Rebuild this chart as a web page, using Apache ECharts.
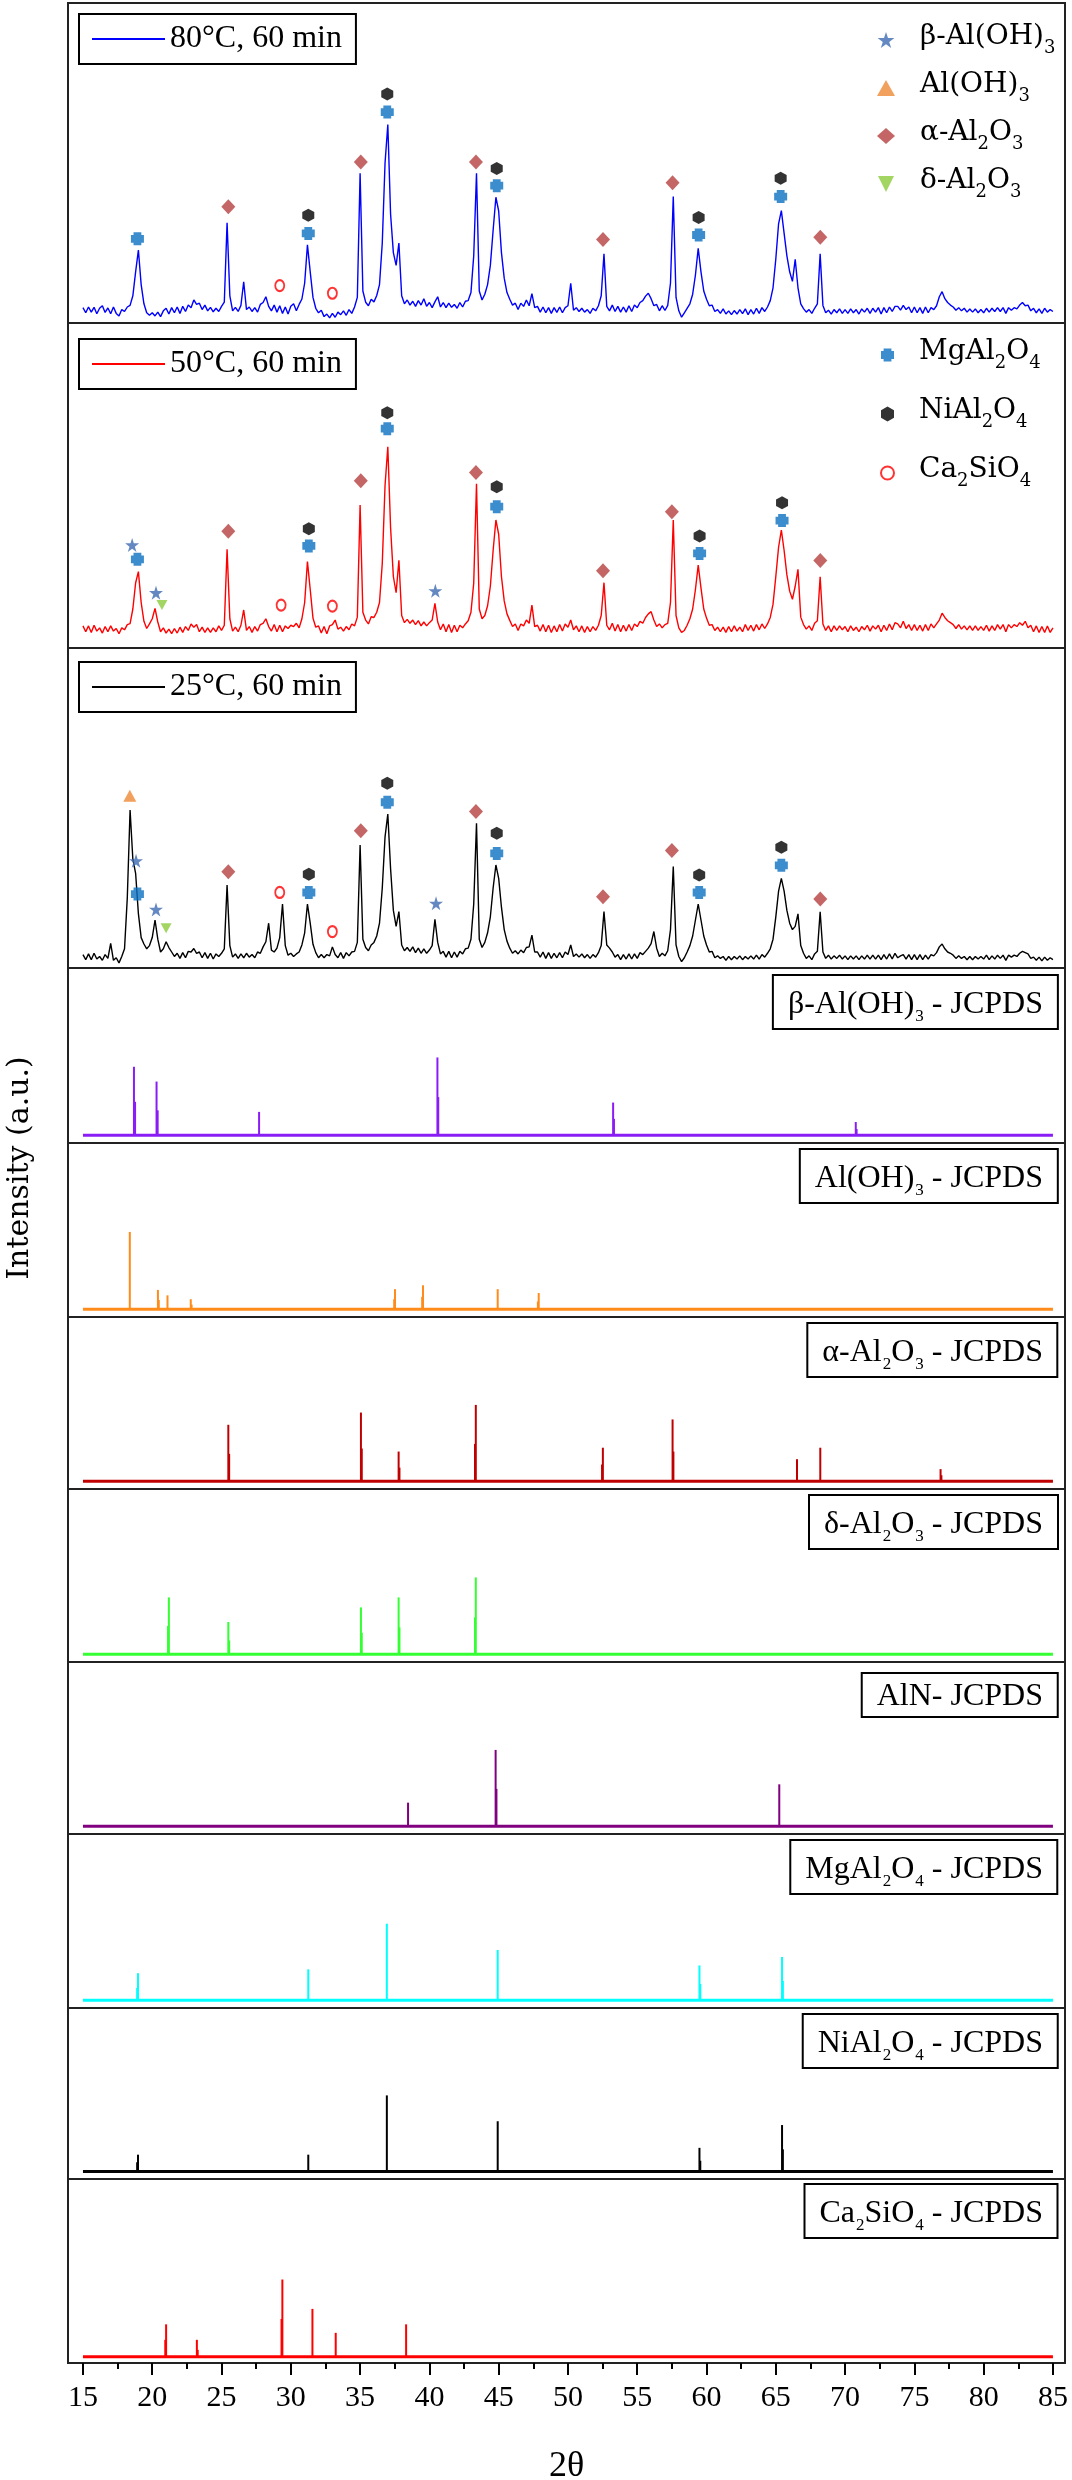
<!DOCTYPE html>
<html>
<head>
<meta charset="utf-8">
<script src="https://cdn.jsdelivr.net/npm/echarts/dist/echarts.min.js"></script>
<style>html,body{margin:0;padding:0;background:#fff}#chart{width:1072px;height:2480px}</style>
</head>
<body>
<div id="chart"></div>
<script>
// ---------------- DATA ----------------
// 2θ sampling of the measured scans (15° .. 85°, step 0.2°)
const scanStart = 15, scanStep = 0.2, scanEnd = 85;

// Measured XRD intensities (a.u.), one value per 0.2° step, rows of 5°
const xrd80 = [
 4.8,3.2,5.0,3.4,4.9,2.9,4.6,5.4,3.3,4.7,2.9,5.0,3.0,2.2,4.2,3.6,5.0,5.5,8.5,16,22.8,12,6,3.2,2.4,
 3.2,2.2,3.4,2.0,3.8,4.6,2.8,4.8,3.2,5.0,3.0,5.2,3.6,5.6,4.8,7.2,5.8,6.2,4.2,5.6,3.8,4.9,3.5,4.6,3.6,
 5.2,6.5,31.3,8.5,3.8,4.9,3.6,5.5,12.9,4.2,5.0,3.6,4.8,3.4,5.8,6.4,8.2,5.2,3.8,5.6,3.4,5.4,3.0,5.0,2.8,
 5.2,6.0,3.8,5.8,7.5,12.5,24.4,16,8,4.6,3.2,4.0,2.0,2.8,1.6,3.0,1.8,3.4,2.6,3.8,2.4,4.2,3.0,5.0,8.0,
 46.8,10,6.5,5.4,7.4,6.6,8.6,12,25,50,62,34,22,18,25,8.5,6.0,7.2,5.6,6.8,5.2,7.0,5.6,7.6,5.2,
 6.4,4.8,6.6,8.2,5.0,6.4,4.8,6.2,4.9,5.8,4.6,6.4,5.0,6.8,7.0,9.5,21,46.8,10,7.2,9,12,18,29,39.3,
 35,22,14,9.5,7.4,5.6,6.2,4.2,6.2,5.2,7.2,5.4,9.2,4.8,5.2,3.4,5.0,3.2,4.8,3.0,4.8,3.3,5.0,3.2,4.8,
 5.4,12.4,4.0,4.8,3.6,4.6,3.4,4.2,3.0,4.6,3.8,5.4,8.5,21.6,5.2,3.8,5.6,3.6,5.2,3.4,5.0,3.4,5.4,3.6,5.6,
 4.8,6.4,7.0,8.4,9.3,7.6,5.4,5.8,3.8,5.4,3.9,5.5,12.5,39.5,8.0,3.8,1.8,3.2,4.6,6.0,9.0,15,23.3,16,10,
 7.4,5.4,5.6,3.6,4.2,3.0,4.4,2.8,3.8,2.6,3.9,2.8,4.2,2.9,4.4,2.6,4.2,2.8,4.6,3.0,4.8,3.6,5.0,7.0,11,
 20,31,35.1,28,21,16,13,19.9,11,6.0,4.5,3.4,4.2,3.0,4.6,6.0,21.6,5.5,3.2,4.0,2.8,4.2,3.2,4.4,3.0,
 4.2,3.0,4.4,3.2,4.2,2.8,4.4,3.4,4.6,3.0,4.6,3.4,4.8,2.8,4.8,3.2,5.0,3.6,5.2,5.2,4.0,5.5,4.2,5.0,3.2,
 5.0,3.2,4.8,3.0,5.0,3.2,4.8,4.2,5.4,8.2,9.8,7.6,6.4,5.6,5.0,4.0,4.8,3.8,4.6,3.4,4.4,3.4,4.4,3.2,4.2,
 3.2,4.6,3.4,4.6,3.6,4.8,3.6,4.8,3.0,4.8,4.0,4.8,4.4,5.6,6.4,5.4,5.6,3.8,4.6,3.2,4.4,3.0,4.6,3.4,4.2,
 3.6
];
const xrd50 = [
 6.8,5.0,6.8,4.8,7.0,5.2,6.2,4.6,6.6,5.0,6.8,5.2,6.0,4.4,6.2,5.6,7.2,7.5,12,20,23.5,14,8.2,6.0,7.4,
 9.0,12.2,8.0,5.0,6.2,4.6,5.8,4.4,6.0,4.6,6.4,4.8,6.6,5.4,7.4,6.4,7.2,5.0,6.4,4.8,6.2,4.8,6.2,5.0,6.8,
 5.4,7.0,30.4,9.0,5.2,6.4,5.0,7.0,11.7,5.4,6.6,4.8,6.6,5.2,7.2,7.6,9.0,6.6,5.2,7.2,5.0,7.0,5.0,6.8,6.0,
 7.0,6.6,7.6,6.2,9.0,14,26.6,18,9.2,6.4,6.8,4.6,6.6,4.4,6.8,7.2,8.6,5.8,6.4,5.2,6.6,5.6,7.4,6.8,9.5,
 44,11,8.6,7.4,9.6,9.4,11,14,26,50,61.9,37,22,17,27,10,7.8,8.8,7.6,8.6,7.2,8.4,6.8,8.0,6.8,
 7.8,8.6,13.7,8.0,5.6,7.4,5.0,7.2,4.8,7.0,5.0,7.0,6.2,7.4,8.4,11,20,50.5,12,9.0,10,13,19,30,39.4,
 35,22,14.5,10.5,8.5,6.6,7.4,5.4,7.4,6.8,8.6,7.6,13.2,6.6,7.0,5.2,7.2,5.0,7.0,4.8,6.8,5.0,7.2,5.2,7.4,
 6.4,8.6,5.6,6.8,5.0,6.8,4.8,6.6,5.0,6.6,5.4,7.0,10,20.1,7.0,5.6,7.6,5.2,7.2,5.0,7.0,5.2,7.2,5.4,7.4,
 6.6,8.2,7.6,9.4,10.5,11.2,8.6,6.6,7.4,6.2,7.2,7.6,14,39.4,10,6.2,4.8,5.4,7.0,9.0,12,18,25.5,18.5,12,
 9.2,7.0,7.2,5.4,6.4,5.0,6.4,4.8,6.6,5.0,6.8,5.2,6.4,5.0,7.2,5.4,7.0,5.2,7.2,5.6,7.4,6.0,7.4,9.4,13.5,
 22,31,36.3,30,22.5,17.5,15,19,24.2,9.5,7.2,5.8,6.8,5.4,7.6,8.4,21.9,7.4,5.4,6.8,5.0,6.8,5.4,6.8,5.6,
 6.6,5.0,6.8,5.4,6.4,5.0,6.6,5.6,7.0,5.2,6.8,5.8,7.0,5.0,7.0,5.4,7.4,5.6,7.8,7.4,6.2,8.2,6.0,7.2,5.4,
 7.2,5.4,7.0,5.2,7.2,5.4,7.4,6.2,7.4,8.6,10.7,9.4,8.4,7.8,7.2,6.0,7.2,5.8,6.8,5.6,6.8,5.4,6.8,5.4,6.6,
 5.4,7.0,5.2,6.8,5.4,7.2,5.8,7.2,5.0,7.2,6.2,7.2,6.6,7.8,7.0,8.2,6.2,7.0,5.0,6.8,4.8,6.6,4.8,6.8,4.8,
 6.2
];
const xrd25 = [
 4.2,2.6,4.4,2.6,4.6,2.8,3.6,2.4,4.2,3.0,7.7,2.4,3.2,1.6,3.6,6.0,22,49.4,34,29.6,17,9.5,7.5,6.0,7.0,
 9.5,15,9.0,5.0,6.0,8.2,6.4,5.0,3.6,4.6,3.0,4.8,3.2,5.2,5.0,6.1,4.6,5.0,3.2,4.8,3.0,4.6,2.8,4.4,3.6,
 4.6,6.0,25.9,7.0,3.4,4.4,3.0,4.4,3.2,4.6,3.4,4.2,3.2,5.0,4.6,6.6,8.2,14,5.6,5.0,6.2,9.5,20,7.0,4.0,
 4.6,3.6,4.4,5.0,7.2,11,20,14,7.4,4.8,3.2,4.2,3.2,4.2,3.8,6.6,4.2,3.2,4.8,3.0,4.8,3.8,5.0,5.2,8.0,
 38.4,9.0,6.4,5.4,7.2,8.0,10,14,25,41,48.1,31,18,13,17.6,7.2,5.4,6.4,5.2,6.6,4.8,6.2,4.6,6.0,4.6,
 5.6,7.0,15.2,8.0,4.4,5.2,3.4,5.2,3.2,5.0,3.4,5.2,4.4,6.0,6.2,9.0,20,45.2,9.0,6.4,8.0,11,16,25,32.2,
 28,19,12,8.4,6.2,4.6,5.4,4.4,5.6,4.8,6.4,6.6,10.3,5.0,5.0,3.4,5.0,3.0,4.8,3.0,4.6,3.2,4.8,3.2,5.0,
 4.2,7.2,3.6,4.4,3.4,4.4,3.2,4.2,3.0,4.2,3.4,4.8,7.0,17.6,7.2,6.2,5.0,3.4,4.2,2.6,4.2,2.8,4.4,2.8,4.4,
 3.0,4.8,4.2,5.2,6.2,7.6,11.4,6.2,3.6,4.6,3.8,5.4,12,31.7,7.2,3.6,2.0,3.2,5.0,7.0,10,15,20,15,10,
 7.2,5.0,5.2,3.2,3.8,3.0,3.6,2.4,3.6,2.6,3.6,2.8,3.8,2.6,3.6,2.8,3.8,2.8,4.0,2.8,4.2,3.4,4.6,6.0,9.0,
 16,24,28,24,18,14,12,13,16.9,7.0,4.6,3.0,3.8,2.6,4.4,5.2,17.6,5.0,3.0,4.0,2.8,3.8,3.0,4.0,2.8,
 3.8,2.6,3.8,2.8,3.8,2.6,3.8,2.8,4.0,2.8,4.0,2.8,4.0,2.6,4.2,2.8,4.4,2.8,4.6,3.2,3.8,4.2,2.8,4.2,2.6,
 4.2,2.6,4.2,2.6,4.0,2.8,4.2,3.8,4.8,6.6,7.5,6.0,5.0,4.6,4.0,3.0,3.8,3.0,3.6,2.6,3.6,2.6,3.6,2.8,3.6,
 2.8,4.0,2.6,3.8,2.8,4.0,3.0,4.0,2.4,4.0,3.4,4.0,3.6,4.6,5.2,4.8,4.4,3.0,3.4,2.4,3.4,2.2,3.4,2.4,3.2,
 2.6
];
const sampleNames = ['80°C, 60 min', '50°C, 60 min', '25°C, 60 min'];

// Phase markers: [panel (0 = 80°C, 1 = 50°C, 2 = 25°C), 2θ, intensity]
const marksBetaAlOH3 = [[1,18.55,31.7],[1,20.27,17.0],[1,40.43,17.6],[2,18.83,33.5],[2,20.27,18.3],[2,40.48,20.2]];
const marksAlOH3 = [[2,18.38,53.8]];
const marksAlpha = [[0,25.49,36.3],[0,35.05,50.3],[0,43.36,50.3],[0,52.53,26.1],[0,57.55,43.8],[0,68.21,26.8],
  [1,25.49,35.9],[1,35.05,51.5],[1,43.36,54],[1,52.53,23.8],[1,57.5,41.9],[1,68.21,26.9],
  [2,25.49,30.1],[2,35.05,42.9],[2,43.36,48.9],[2,52.53,22.3],[2,57.5,36.7],[2,68.21,21.6]];
const marksDelta = [[1,20.7,13.2],[2,21.0,12.4]];
const marksMgAl2O4 = [[0,18.93,26.3],[0,31.26,28],[0,36.96,65.9],[0,44.86,42.9],[0,59.43,27.5],[0,65.35,39.5],
  [1,18.93,27.3],[1,31.3,31.4],[1,36.96,67.5],[1,44.86,43.5],[1,59.5,29.1],[1,65.45,39.2],
  [2,18.93,23.1],[2,31.3,23.6],[2,36.96,51.8],[2,44.86,35.8],[2,59.47,23.6],[2,65.4,32.1]];
const marksNiAl2O4 = [[0,31.26,33.7],[0,36.96,71.6],[0,44.86,48.3],[0,59.43,33],[0,65.35,45.2],
  [1,31.3,36.7],[1,36.96,72.4],[1,44.86,49.6],[1,59.5,34.5],[1,65.45,44.7],
  [2,31.3,29.3],[2,36.96,57.7],[2,44.86,42.1],[2,59.47,29.1],[2,65.4,37.7]];
const marksCa2SiO4 = [[0,29.2,11.7],[0,33.0,9.3],[1,29.3,13.2],[1,33.0,12.9],[2,29.2,23.6],[2,33.0,11.4]];

// JCPDS reference lines: [2θ, relative intensity %]
const jcBetaAlOH3 = [[18.68,88],[18.76,43],[20.31,69],[20.39,32],[27.71,30],[40.58,100],[40.64,49],[53.26,42],[53.32,21],[70.77,17],[70.83,8]];
const jcAlOH3 = [[18.38,100],[20.41,25],[20.47,12],[21.1,18],[22.78,13],[22.84,6],[37.52,26],[37.46,13],[39.54,31],[39.48,16],[44.93,26],[47.89,21],[47.83,10]];
const jcAlpha = [[25.49,74],[25.55,36],[35.06,90],[35.12,43],[37.78,39],[37.84,18],[43.35,100],[43.29,49],[52.52,44],[52.46,22],[57.55,81],[57.61,39],[66.53,29],[68.21,44],[76.89,16],[76.95,8]];
const jcDelta = [[21.2,74],[21.14,37],[25.49,42],[25.55,18],[35.06,61],[35.12,28],[37.78,74],[37.84,35],[43.35,100],[43.29,48]];
const jcAlN = [[38.46,31],[44.78,100],[44.84,49],[65.25,55]];
const jcMgAl2O4 = [[18.97,35],[18.91,16],[31.26,40],[36.93,99],[44.93,65],[59.49,45],[59.55,21],[65.45,56],[65.51,25]];
const jcNiAl2O4 = [[18.97,22],[18.91,12],[31.26,22],[36.93,100],[44.93,66],[59.49,31],[59.55,14],[65.45,61],[65.51,29]];
const jcCa2SiO4 = [[21.0,42],[20.94,22],[23.22,22],[23.28,9],[29.39,100],[29.33,49],[31.56,62],[33.24,31],[38.32,42]];
const jcpdsLabels = ['β-Al(OH)3 - JCPDS','Al(OH)3 - JCPDS','α-Al2O3 - JCPDS','δ-Al2O3 - JCPDS','AlN- JCPDS','MgAl2O4 - JCPDS','NiAl2O4 - JCPDS','Ca2SiO4 - JCPDS'];

// Axis ticks
const xTickLabels = [15,20,25,30,35,40,45,50,55,60,65,70,75,80,85];
const xMinorTicks = [17.5,22.5,27.5,32.5,37.5,42.5,47.5,52.5,57.5,62.5,67.5,72.5,77.5,82.5];

// ---------------- LAYOUT / STYLE ----------------
const X_MIN = 13.92, X_MAX = 85.87;
const SERIF = "'Liberation Serif', 'Times New Roman', serif";
const WIDE_SERIF = "'DejaVu Serif', serif";
const panelBoxes = [[3,320],[323,325],[648,320],[968,175],[1143,174],[1317,172],[1489,173],[1662,172],[1834,174],[2008,171],[2179,184]];
const sampleColors = ['#0000ff','#ff0000','#000000'];
const sampleLegendTops = [14, 339, 662];
const jcSets = [jcBetaAlOH3, jcAlOH3, jcAlpha, jcDelta, jcAlN, jcMgAl2O4, jcNiAl2O4, jcCa2SiO4];
const jcColors = ['#8a1cf5','#ff8c1a','#c00000','#33ff33','#800080','#00ffff','#000000','#ff0000'];
const jcTitleTops = [981,1155,1329,1501,1673,1846,2020,2190];

const STAR = 'path://M0,-1 L0.2245,-0.309 L0.951,-0.309 L0.363,0.118 L0.588,0.809 L0,0.382 L-0.588,0.809 L-0.363,0.118 L-0.951,-0.309 L-0.2245,-0.309 Z';
const PLUS = 'path://M-0.6,-1 L0.6,-1 L0.6,-0.6 L1,-0.6 L1,0.6 L0.6,0.6 L0.6,1 L-0.6,1 L-0.6,0.6 L-1,0.6 L-1,-0.6 L-0.6,-0.6 Z';
const HEX = 'path://M0,-1 L0.87,-0.5 L0.87,0.5 L0,1 L-0.87,0.5 L-0.87,-0.5 Z';
const INV_TRI = 'path://M-1,-1 L1,-1 L0,1 Z';

const phases = [
  {name:'β-Al(OH)3', marks:marksBetaAlOH3, symbol:STAR, size:14, style:{color:'#3d6bb3'}},
  {name:'Al(OH)3', marks:marksAlOH3, symbol:'triangle', size:[13,12], style:{color:'#ee8a35'}},
  {name:'α-Al2O3', marks:marksAlpha, symbol:'diamond', size:[14,15], style:{color:'#b4403e'}},
  {name:'δ-Al2O3', marks:marksDelta, symbol:INV_TRI, size:[11,10], style:{color:'#8ccb3c'}},
  {name:'MgAl2O4', marks:marksMgAl2O4, symbol:PLUS, size:[13,13], style:{color:'#0a70c0'}},
  {name:'NiAl2O4', marks:marksNiAl2O4, symbol:HEX, size:[12,13], style:{color:'#000000'}},
  {name:'Ca2SiO4', marks:marksCa2SiO4, symbol:'emptyCircle', size:[9,11], style:{color:'#ff0000', borderColor:'#ff0000', borderWidth:2}}
];

function richify(s, first) {
  const parts = s.split(/(\d)/).filter(p => p !== '');
  return parts.map((p, i) => /^\d$/.test(p) ? '{s|' + p + '}' : '{' + (i === 0 && first ? first : 't') + '|' + p + '}').join('');
}

// ---------------- BUILD ----------------
const grid = [], xAxis = [], yAxis = [], series = [], title = [], legend = [];
panelBoxes.forEach((b, i) => {
  grid.push({left:68, width:997, top:b[0], height:b[1], show:true, borderColor:'#222', borderWidth:2,
    backgroundColor:'transparent', containLabel:false, outerBoundsMode:'none'});
  const isLast = i === panelBoxes.length - 1;
  xAxis.push({
    type:'value', gridIndex:i, min:X_MIN, max:X_MAX, show:isLast,
    axisLine:{show:false, onZero:false}, splitLine:{show:false},
    axisTick:{show:isLast, customValues:xTickLabels, length:12, lineStyle:{color:'#000', width:2}},
    axisLabel:{show:isLast, customValues:xTickLabels, margin:20, color:'#000', fontFamily:SERIF, fontSize:30},
    name: isLast ? '2θ' : '', nameLocation:'middle', nameGap:86, nameMoveOverlap:false,
    nameTextStyle:{fontFamily:SERIF, fontSize:36, color:'#000'}
  });
  if (i < 3) yAxis.push({type:'value', gridIndex:i, min:0, max:100, show:false});
  else if (isLast) yAxis.push({type:'value', gridIndex:i, min:-8, max:230, show:false});
  else yAxis.push({type:'value', gridIndex:i, min:-10, max:215, show:false});
});
// helper grid for the minor ticks of the bottom axis
const lb = panelBoxes[panelBoxes.length - 1];
grid.push({left:68, width:997, top:lb[0], height:lb[1], show:false, containLabel:false, outerBoundsMode:'none'});
xAxis.push({type:'value', gridIndex:11, min:X_MIN, max:X_MAX, axisLine:{show:false, onZero:false}, splitLine:{show:false},
  axisTick:{show:true, customValues:xMinorTicks, length:6, lineStyle:{color:'#000', width:2}}, axisLabel:{show:false}});
yAxis.push({type:'value', gridIndex:11, min:0, max:1, show:false});

// measured scans
[xrd80, xrd50, xrd25].forEach((vals, p) => {
  series.push({
    type:'line', name:sampleNames[p], xAxisIndex:p, yAxisIndex:p, symbol:'none', showSymbol:false, z:2,
    data: vals.map((v, i) => [+(scanStart + i * scanStep).toFixed(1), v]),
    lineStyle:{color:sampleColors[p], width:1.4}, itemStyle:{color:sampleColors[p]}
  });
  legend.push({
    data:[{name:sampleNames[p], icon:'rect'}], left:79, top:sampleLegendTops[p], orient:'horizontal', selectedMode:false,
    itemWidth:73, itemHeight:2, padding:[8,14,8,13], borderColor:'#000', borderWidth:2, backgroundColor:'#fff',
    textStyle:{fontFamily:SERIF, fontSize:32, color:'#000', lineHeight:34}
  });
});

// phase markers
phases.forEach(ph => {
  for (let p = 0; p < 3; p++) {
    const pts = ph.marks.filter(m => m[0] === p).map(m => [m[1], m[2]]);
    if (!pts.length) continue;
    series.push({type:'scatter', name:ph.name, xAxisIndex:p, yAxisIndex:p, z:5, data:pts,
      symbol:ph.symbol, symbolSize:ph.size, itemStyle:ph.style, emphasis:{disabled:true}});
  }
});

const legendRich = {
  f:{fontFamily:WIDE_SERIF, fontSize:28, fontWeight:'normal', lineHeight:34, verticalAlign:'top', padding:[0,0,0,20], color:'#000'},
  t:{fontFamily:WIDE_SERIF, fontSize:28, fontWeight:'normal', lineHeight:34, verticalAlign:'top', color:'#000'},
  s:{fontFamily:WIDE_SERIF, fontSize:18, fontWeight:'normal', lineHeight:18, padding:[16,0,0,0], verticalAlign:'bottom', color:'#000'}
};
legend.push({data:phases.slice(0,4).map(p => p.name), orient:'vertical', left:877, top:23, itemWidth:18, itemHeight:16,
  itemGap:14, padding:0, selectedMode:false, formatter:n => richify(n, 'f'), textStyle:{rich:legendRich}});
legend.push({data:phases.slice(4).map(p => p.name), orient:'vertical', left:880, top:338, itemWidth:13, itemHeight:15,
  itemGap:25, padding:0, selectedMode:false, formatter:n => richify(n, 'f'), textStyle:{rich:legendRich}});

// JCPDS reference patterns
jcSets.forEach((set, k) => {
  const gi = k + 3;
  series.push({type:'bar', name:jcpdsLabels[k], xAxisIndex:gi, yAxisIndex:gi, barWidth:2, z:2,
    data:set.map(d => [d[0], d[1]]), itemStyle:{color:jcColors[k]}, emphasis:{disabled:true}});
  series.push({type:'line', name:jcpdsLabels[k] + ' base', xAxisIndex:gi, yAxisIndex:gi, symbol:'none', z:3,
    data:[[scanStart, 0], [scanEnd, 0]], lineStyle:{color:jcColors[k], width:3}});
  title.push({text:richify(jcpdsLabels[k]), right:14, top:jcTitleTops[k], padding:[8,15,4,15],
    borderColor:'#000', borderWidth:2, backgroundColor:'#fff',
    textStyle:{fontWeight:'normal', fontFamily:SERIF, rich:{
      t:{fontFamily:SERIF, fontSize:32, fontWeight:'normal', lineHeight:36, verticalAlign:'top', color:'#000'},
      s:{fontFamily:SERIF, fontSize:17, fontWeight:'normal', lineHeight:16, padding:[25,0,0,1], verticalAlign:'bottom', color:'#000'}
    }}});
});

const chart = echarts.init(document.getElementById('chart'), null, {renderer:'canvas', width:1072, height:2480});
chart.setOption({
  animation:false,
  backgroundColor:'#fff',
  grid, xAxis, yAxis, series, title, legend,
  graphic:[{type:'text', x:20, y:1168, rotation:Math.PI / 2,
    style:{text:'Intensity (a.u.)', fontFamily:WIDE_SERIF, fontSize:30, fill:'#000', align:'center', verticalAlign:'middle'}}]
});
</script>
</body>
</html>
